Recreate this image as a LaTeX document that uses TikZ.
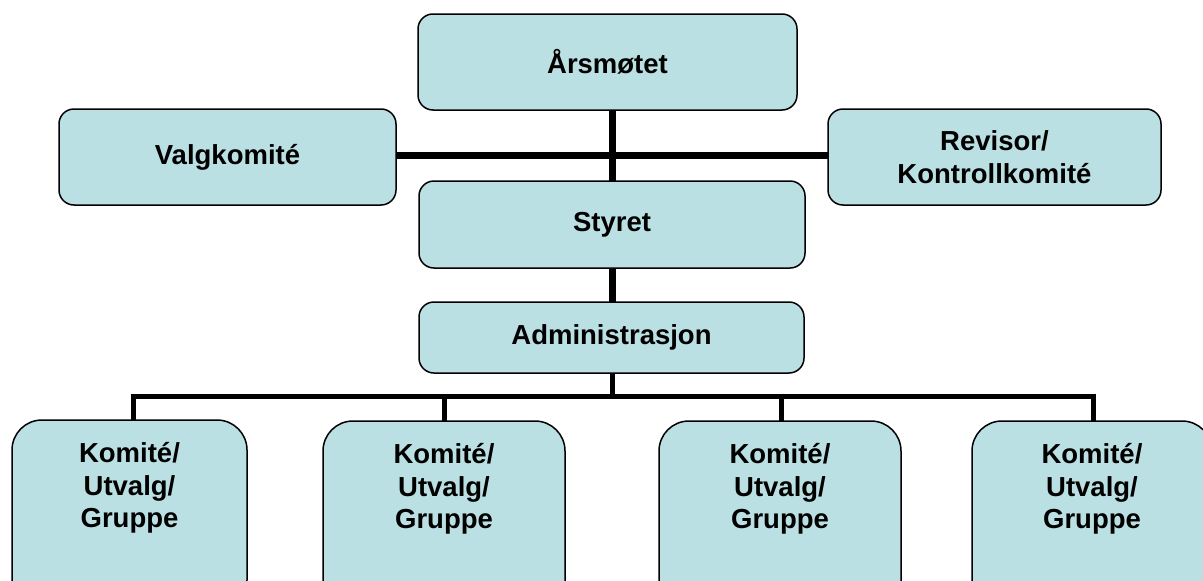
\documentclass[tikz,border=0pt]{standalone}
\usepackage{fontspec}
\setmainfont{Liberation Sans}
\definecolor{boxfill}{RGB}{187,224,227}
\begin{document}
\begin{tikzpicture}[x=1pt,y=-1pt,
  box/.style={draw=black,line width=1.5pt,fill=boxfill,rounded corners=15pt,
    inner sep=0pt,align=center,font=\fontsize{27.5}{32.5}\selectfont\bfseries},
  lowbox/.style={box,rounded corners=30pt,text depth=60pt},
  thick line/.style={line width=7pt},
  thin line/.style={line width=5pt}]
\useasboundingbox (0,0) rectangle (1203,581);
\clip (0,0) rectangle (1203,581);
% connectors
\draw[thick line] (612,110) -- (612,181);
\draw[thick line] (396,155) -- (828,155);
\draw[thick line] (612,268) -- (612,302);
\draw[thin line] (612,373) -- (612,396);
\draw[thin line] (133,421) -- (133,396) -- (1093,396) -- (1093,421);
\draw[thin line] (444,396) -- (444,421);
\draw[thin line] (781,396) -- (781,421);
% boxes
\node[box,minimum width=379pt,minimum height=96pt] (aars) at (607.5,62) {Årsmøtet};
\node[box,minimum width=337pt,minimum height=96pt] (valg) at (227.5,157) {Valgkomité};
\node[box,minimum width=333pt,minimum height=96pt] (rev) at (994.5,157) {Revisor/\\Kontrollkomité};
\node[box,minimum width=386pt,minimum height=87pt] (styret) at (612,224.5) {Styret};
\node[box,minimum width=385pt,minimum height=71pt] (admin) at (611.5,337.5) {Administrasjon};
\node[lowbox,minimum width=235pt,minimum height=190pt] (k1) at (129.5,515) {Komité/\\Utvalg/\\Gruppe};
\node[lowbox,minimum width=242pt,minimum height=190pt] (k2) at (444,516) {Komité/\\Utvalg/\\Gruppe};
\node[lowbox,minimum width=242pt,minimum height=190pt] (k3) at (780,516) {Komité/\\Utvalg/\\Gruppe};
\node[lowbox,minimum width=240pt,minimum height=190pt] (k4) at (1092,516) {Komité/\\Utvalg/\\Gruppe};
\end{tikzpicture}
\end{document}
